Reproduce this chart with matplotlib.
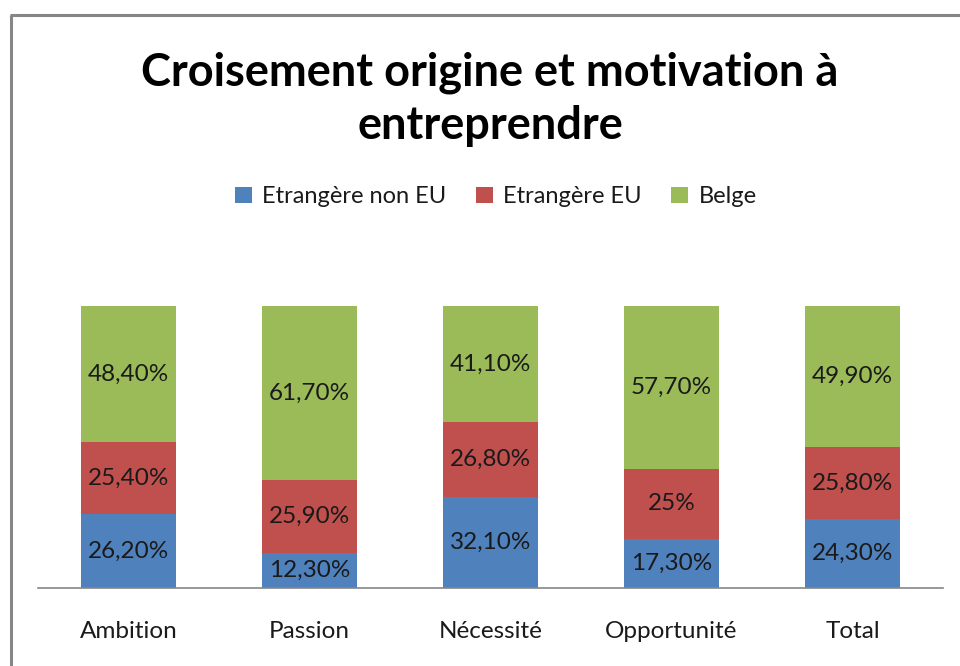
import matplotlib
matplotlib.use("Agg")
import matplotlib.pyplot as plt
from matplotlib.patches import Patch
from matplotlib.lines import Line2D

plt.rcParams['font.family'] = ['Lato', 'DejaVu Sans']

categories = ["Ambition", "Passion", "Nécessité", "Opportunité", "Total"]
non_eu = [26.2, 12.3, 32.1, 17.3, 24.3]
eu = [25.4, 25.9, 26.8, 25.0, 25.8]
belge = [48.4, 61.7, 41.1, 57.7, 49.9]
labels_non_eu = ["26,20%", "12,30%", "32,10%", "17,30%", "24,30%"]
labels_eu = ["25,40%", "25,90%", "26,80%", "25%", "25,80%"]
labels_belge = ["48,40%", "61,70%", "41,10%", "57,70%", "49,90%"]
series_names = ["Etrangère non EU", "Etrangère EU", "Belge"]
colors = ["#4F81BD", "#C0504D", "#9BBB59"]

W, H = 960, 666
fig = plt.figure(figsize=(W / 100, H / 100), dpi=100)
fig.patch.set_facecolor("white")

# outer frame (left and top visible)
fig.add_artist(Line2D([11 / W, 11 / W], [-0.05, 1 - 15 / H], transform=fig.transFigure,
                      color="#868686", lw=2.2, solid_capstyle="butt"))
fig.add_artist(Line2D([10 / W, 1.05], [1 - 15 / H, 1 - 15 / H], transform=fig.transFigure,
                      color="#868686", lw=2.2, solid_capstyle="butt"))

ax = fig.add_axes([38 / W, (H - 588) / H, (943 - 38) / W, (588 - 306) / H])

x = list(range(len(categories)))
width = 0.52
series = [non_eu, eu, belge]
labels = [labels_non_eu, labels_eu, labels_belge]
bottoms = [0.0] * len(categories)
totals = [a + b + c for a, b, c in zip(non_eu, eu, belge)]
for vals, labs, col in zip(series, labels, colors):
    fr = [v / t for v, t in zip(vals, totals)]
    ax.bar(x, fr, width, bottom=bottoms, color=col, edgecolor="none")
    for xi, b, f, lab in zip(x, bottoms, fr, labs):
        ax.text(xi, b + f / 2, lab, ha="center", va="center", fontsize=17.5, color="#1a1a1a")
    bottoms = [b + f for b, f in zip(bottoms, fr)]

ax.set_xlim(-0.5, len(categories) - 0.5)
ax.set_ylim(0, 1)
ax.set_yticks([])
ax.set_xticks(x)
ax.set_xticklabels(categories, fontsize=17.5, color="#1a1a1a")
ax.tick_params(axis="x", length=0, pad=24)
for s in ["top", "right", "left"]:
    ax.spines[s].set_visible(False)
ax.spines["bottom"].set_color("#868686")
ax.spines["bottom"].set_linewidth(1.2)

fig.text(490 / W, 1 - 99 / H, "Croisement origine et motivation à\nentreprendre",
         ha="center", va="center", fontsize=32.5, fontweight="bold", color="black",
         linespacing=1.33)

handles = [Patch(facecolor=c, edgecolor="none") for c in colors]
fig.legend(handles, series_names, loc="center", bbox_to_anchor=(496 / W, 1 - 197 / H),
           ncol=3, frameon=False, fontsize=17, handlelength=0.7, handleheight=0.7,
           handletextpad=0.45, columnspacing=1.25, labelcolor="#1a1a1a")

fig.savefig("out.png", dpi=100, facecolor="white")
